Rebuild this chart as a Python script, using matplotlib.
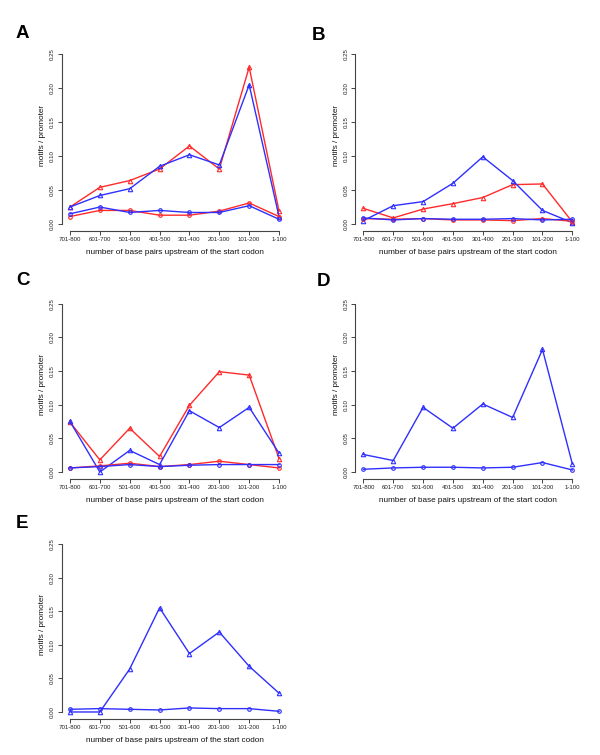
import matplotlib
matplotlib.use("Agg")
import matplotlib.pyplot as plt
import numpy as np

plt.rcParams['font.family'] = ['Liberation Sans', 'DejaVu Sans']

categories = ["701-800", "601-700", "501-600", "401-500", "301-400", "201-300", "101-200", "1-100"]
yticks = [0.00, 0.05, 0.10, 0.15, 0.20, 0.25]
ytick_labels = ["0.00", "0.05", "0.10", "0.15", "0.20", "0.25"]

A_red_tri = [0.025, 0.054, 0.064, 0.081, 0.115, 0.081, 0.231, 0.019]
A_blue_tri = [0.025, 0.042, 0.052, 0.085, 0.102, 0.087, 0.205, 0.011]
A_red_circ = [0.011, 0.020, 0.020, 0.013, 0.013, 0.019, 0.031, 0.011]
A_blue_circ = [0.015, 0.025, 0.017, 0.020, 0.017, 0.017, 0.027, 0.007]

B_red_tri = [0.023, 0.009, 0.022, 0.030, 0.039, 0.058, 0.059, 0.003]
B_blue_tri = [0.005, 0.027, 0.033, 0.060, 0.099, 0.064, 0.020, 0.002]
B_red_circ = [0.008, 0.007, 0.008, 0.006, 0.006, 0.005, 0.008, 0.004]
B_blue_circ = [0.009, 0.006, 0.008, 0.007, 0.007, 0.008, 0.006, 0.007]

C_red_tri = [0.074, 0.018, 0.065, 0.023, 0.099, 0.149, 0.144, 0.020]
C_blue_tri = [0.075, 0.000, 0.032, 0.011, 0.091, 0.066, 0.096, 0.028]
C_red_circ = [0.006, 0.009, 0.013, 0.008, 0.011, 0.016, 0.011, 0.006]
C_blue_circ = [0.006, 0.008, 0.011, 0.008, 0.010, 0.011, 0.011, 0.011]

D_blue_tri = [0.026, 0.017, 0.096, 0.065, 0.101, 0.081, 0.182, 0.012]
D_blue_circ = [0.004, 0.006, 0.007, 0.007, 0.006, 0.007, 0.014, 0.003]

E_blue_tri = [0.000, 0.000, 0.064, 0.155, 0.087, 0.119, 0.068, 0.028]
E_blue_circ = [0.004, 0.005, 0.004, 0.003, 0.006, 0.005, 0.005, 0.001]

RED = '#ff2a2a'
BLUE = '#2f2fff'

W, H = 600, 755
fig = plt.figure(figsize=(W / 100, H / 100), dpi=100)

# panel boxes in pixel coords: left, right, top, bottom
boxes = {
    'A': (61.6, 287.4, 47.5, 230.8),
    'B': (355.0, 580.7, 47.5, 230.8),
    'C': (61.6, 287.4, 297.0, 478.7),
    'D': (355.0, 580.7, 297.0, 478.7),
    'E': (61.6, 287.4, 537.3, 718.7),
}
letters_pos = {'A': (16, 38), 'B': (312, 40), 'C': (16, 285), 'D': (317, 286), 'E': (16, 528)}

series = {
    'A': [(A_red_tri, RED, '^'), (A_blue_tri, BLUE, '^'), (A_red_circ, RED, 'o'), (A_blue_circ, BLUE, 'o')],
    'B': [(B_red_tri, RED, '^'), (B_blue_tri, BLUE, '^'), (B_red_circ, RED, 'o'), (B_blue_circ, BLUE, 'o')],
    'C': [(C_red_tri, RED, '^'), (C_blue_tri, BLUE, '^'), (C_red_circ, RED, 'o'), (C_blue_circ, BLUE, 'o')],
    'D': [(D_blue_tri, BLUE, '^'), (D_blue_circ, BLUE, 'o')],
    'E': [(E_blue_tri, BLUE, '^'), (E_blue_circ, BLUE, 'o')],
}

x = np.arange(1, len(categories) + 1)
AXC = '#444444'

for key, (l, r, t, b) in boxes.items():
    ax = fig.add_axes([l / W, 1 - b / H, (r - l) / W, (b - t) / H])
    for vals, col, mk in series[key]:
        ms = 3.2 if mk == '^' else 2.6
        ax.plot(x, vals, color=col, lw=1.0, marker=mk, ms=ms, mfc='none', mec=col, mew=0.8)
    ax.set_xlim(1 - 0.04 * 7, 8 + 0.04 * 7)
    ax.set_ylim(-0.01, 0.26)
    for s in ['top', 'right']:
        ax.spines[s].set_visible(False)
    ax.spines['left'].set_bounds(0, 0.25)
    ax.spines['bottom'].set_bounds(1, 8)
    for s in ['left', 'bottom']:
        ax.spines[s].set_color(AXC)
        ax.spines[s].set_linewidth(0.8)
    ax.set_xticks(x)
    ax.set_xticklabels(categories, fontsize=4.4, color='#222222')
    ax.set_yticks(yticks)
    ax.set_yticklabels(ytick_labels, fontsize=4.4, rotation=90, va='center', color='#222222')
    ax.tick_params(axis='both', length=2.6, width=0.7, color=AXC, pad=2.0)
    ax.set_xlabel("number of base pairs upstream of the start codon", fontsize=5.9, color='#111111')
    ax.set_ylabel("motifs / promoter", fontsize=5.9, color='#111111')
    hpx = b - t
    wpx = r - l
    ax.xaxis.set_label_coords(0.5, -21.5 / hpx)
    ax.xaxis.label.set_va('center')
    ax.yaxis.set_label_coords(-19.0 / wpx, 0.52)
    ax.yaxis.label.set_va('center')
    lx, ly = letters_pos[key]
    fig.text(lx / W, 1 - ly / H, key, fontsize=13.5, fontweight='bold', ha='left', va='baseline')

fig.savefig('out.png', dpi=100)
